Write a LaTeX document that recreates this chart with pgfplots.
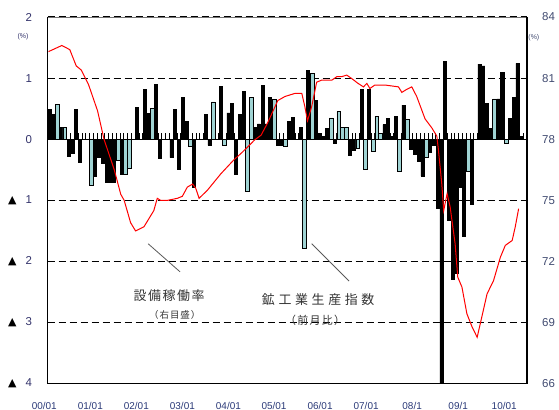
\documentclass[border=0pt]{standalone}
\usepackage{fontspec}
\setmainfont{Liberation Sans}
\newfontfamily\jp{Noto Sans CJK JP}
\newfontfamily\dejavu{DejaVu Sans}
\usepackage{pgfplots}
\pgfplotsset{compat=1.18}
\definecolor{tealbar}{HTML}{9FD3D3}
\definecolor{navyL}{HTML}{33336B}
\definecolor{navyR}{HTML}{404A70}
\definecolor{navyX}{HTML}{2B3A78}
\definecolor{jptext}{HTML}{333333}
\begin{document}
\begin{tikzpicture}
\path[use as bounding box] (0,0) rectangle (559bp,410bp);
\begin{axis}[
  at={(47.7bp,26.3bp)}, anchor=south west,
  scale only axis, width=479.3bp, height=366.7bp,
  xmin=-0.5, xmax=125.5, ymin=-4, ymax=2,
  clip mode=individual,
  axis line style={draw=none},
  major tick length=0pt,
  ytick={-4,-3,-2,-1,0,1,2},
  yticklabels={{{\dejavu\fontsize{11}{12}\selectfont\color{black}▲}\hspace{9bp}4},
               {{\dejavu\fontsize{11}{12}\selectfont\color{black}▲}\hspace{9bp}3},
               {{\dejavu\fontsize{11}{12}\selectfont\color{black}▲}\hspace{9bp}2},
               {{\dejavu\fontsize{11}{12}\selectfont\color{black}▲}\hspace{9bp}1},
               0,1,2},
  yticklabel style={anchor=east, inner sep=0pt, xshift=-15.5bp, font=\fontsize{11.5}{13}\selectfont, text=navyL},
  xtick={-0.5,11.6,23.7,35.8,47.9,59.9,72.0,84.1,96.2,108.3,120.4},
  xticklabels={00/01,01/01,02/01,03/01,04/01,05/01,06/01,07/01,08/1,09/1,10/01},
  xticklabel style={anchor=base, inner sep=0pt, yshift=-25.5bp, xshift=-3.4bp, font=\fontsize{10}{12}\selectfont, text=navyX},
  ymajorgrids,
  grid style={black, line width=1.1bp, dash pattern=on 7bp off 4bp},
]
% category tick stubs on the zero line
\addplot[ycomb, black, line width=0.8bp, no marks] coordinates {
(-0.5,0.1)(0.5,0.1)(1.5,0.1)(2.5,0.1)(3.5,0.1)(4.5,0.1)(5.5,0.1)(6.5,0.1)(7.5,0.1)(8.5,0.1)
(9.5,0.1)(10.5,0.1)(11.5,0.1)(12.5,0.1)(13.5,0.1)(14.5,0.1)(15.5,0.1)(16.5,0.1)(17.5,0.1)(18.5,0.1)
(19.5,0.1)(20.5,0.1)(21.5,0.1)(22.5,0.1)(23.5,0.1)(24.5,0.1)(25.5,0.1)(26.5,0.1)(27.5,0.1)(28.5,0.1)
(29.5,0.1)(30.5,0.1)(31.5,0.1)(32.5,0.1)(33.5,0.1)(34.5,0.1)(35.5,0.1)(36.5,0.1)(37.5,0.1)(38.5,0.1)
(39.5,0.1)(40.5,0.1)(41.5,0.1)(42.5,0.1)(43.5,0.1)(44.5,0.1)(45.5,0.1)(46.5,0.1)(47.5,0.1)(48.5,0.1)
(49.5,0.1)(50.5,0.1)(51.5,0.1)(52.5,0.1)(53.5,0.1)(54.5,0.1)(55.5,0.1)(56.5,0.1)(57.5,0.1)(58.5,0.1)
(59.5,0.1)(60.5,0.1)(61.5,0.1)(62.5,0.1)(63.5,0.1)(64.5,0.1)(65.5,0.1)(66.5,0.1)(67.5,0.1)(68.5,0.1)
(69.5,0.1)(70.5,0.1)(71.5,0.1)(72.5,0.1)(73.5,0.1)(74.5,0.1)(75.5,0.1)(76.5,0.1)(77.5,0.1)(78.5,0.1)
(79.5,0.1)(80.5,0.1)(81.5,0.1)(82.5,0.1)(83.5,0.1)(84.5,0.1)(85.5,0.1)(86.5,0.1)(87.5,0.1)(88.5,0.1)
(89.5,0.1)(90.5,0.1)(91.5,0.1)(92.5,0.1)(93.5,0.1)(94.5,0.1)(95.5,0.1)(96.5,0.1)(97.5,0.1)(98.5,0.1)
(99.5,0.1)(100.5,0.1)(101.5,0.1)(102.5,0.1)(103.5,0.1)(104.5,0.1)(105.5,0.1)(106.5,0.1)(107.5,0.1)(108.5,0.1)
(109.5,0.1)(110.5,0.1)(111.5,0.1)(112.5,0.1)(113.5,0.1)(114.5,0.1)(115.5,0.1)(116.5,0.1)(117.5,0.1)(118.5,0.1)
(119.5,0.1)(120.5,0.1)(121.5,0.1)(122.5,0.1)(123.5,0.1)(124.5,0.1)(125.5,0.1)
};
% black bars
\addplot[ybar, bar width=0.8, bar shift=0pt, fill=black, draw=black, line width=0.6bp] coordinates {
(0,0.49)(1,0.40)(3,0.19)(5,-0.28)(6,-0.23)(7,0.49)(8,-0.38)(12,-0.60)(13,-0.30)(14,-0.40)
(15,-0.70)(16,-0.70)(17,-0.70)(19,-0.58)(23,0.52)(25,0.82)(26,0.42)(28,0.90)(29,-0.31)(32,-0.30)
(33,0.49)(34,-0.50)(35,0.68)(36,0.29)(38,-0.78)(41,0.40)(42,-0.10)(45,0.87)(47,0.43)(48,0.58)
(49,-0.58)(50,0.40)(51,0.78)(54,0.20)(55,0.25)(56,0.88)(57,0.25)(58,0.68)(60,-0.10)(61,-0.10)
(63,0.29)(64,0.36)(66,0.20)(68,1.13)(70,0.64)(71,0.10)(72,0.05)(73,0.18)(75,-0.06)(79,-0.27)
(80,-0.18)(82,0.82)(84,0.82)(88,0.24)(89,0.34)(90,0.05)(91,0.37)(93,0.56)(95,-0.17)(96,-0.25)
(97,-0.36)(98,-0.60)(100,-0.21)(101,-0.10)(102,-1.13)(103,-4.5)(104,1.27)(105,-1.32)(106,-2.29)(107,-2.20)
(108,-0.78)(109,-1.59)(111,-1.07)(113,1.23)(114,1.20)(115,0.58)(116,0.18)(118,0.66)(119,1.10)(121,0.34)
(122,0.69)(123,1.24)(124,0.05)
};
% teal bars
\addplot[ybar, bar width=1.0, bar shift=0pt, fill=tealbar, draw=black, line width=0.6bp] coordinates {
(2,0.57)(4,0.19)(11,-0.75)(18,-0.35)(20,-0.58)(21,-0.48)(27,0.50)(37,-0.11)(43,0.61)(46,-0.10)
(52,-0.85)(53,0.68)(59,0.65)(62,-0.12)(67,-1.78)(69,1.08)(74,0.35)(76,0.45)(77,0.19)(78,0.19)
(81,-0.15)(83,-0.49)(85,-0.20)(86,0.38)(87,0.09)(92,-0.52)(94,0.32)(99,-0.30)(110,-0.53)(117,0.66)
(120,-0.07)
};
% zero line
\draw[black, line width=1.2bp] (axis cs:-0.5,0) -- (axis cs:125.5,0);
% annotations
\draw[black!65, line width=0.8bp] (axis cs:25.9,-1.71) -- (axis cs:34.3,-2.17);
\draw[black!65, line width=0.8bp] (axis cs:68.9,-1.71) -- (axis cs:78.7,-2.32);
\node[text=jptext, inner sep=0pt, font={\jp\fontsize{13}{15}\selectfont\addfontfeatures{LetterSpace=12}}] at (axis cs:31.4,-2.56) {設備稼働率};
\node[text=jptext, inner sep=0pt, font={\jp\fontsize{9.5}{11}\selectfont\addfontfeatures{LetterSpace=10}}] at (axis cs:32.9,-2.88) {（右目盛）};
\node[text=jptext, inner sep=0pt, font={\jp\fontsize{13}{15}\selectfont\addfontfeatures{LetterSpace=28}}] at (axis cs:70.6,-2.63) {鉱工業生産指数};
\node[text=jptext, inner sep=0pt, font={\jp\fontsize{11}{13}\selectfont\addfontfeatures{LetterSpace=12}}] at (axis cs:69.8,-2.96) {（前月比）};
\node[text=navyL, inner sep=0pt, font=\fontsize{7}{8}\selectfont] at (axis cs:-7.0,1.68) {(\%)};
% frame
\draw[black!55, line width=0.8bp] (rel axis cs:0,1) -- (rel axis cs:1,1);
\draw[black, line width=1.3bp] (rel axis cs:0,1) -- (rel axis cs:0,0) -- (rel axis cs:1,0) -- (rel axis cs:1,1);
\end{axis}
\begin{axis}[
  at={(47.7bp,26.3bp)}, anchor=south west,
  scale only axis, width=479.3bp, height=366.7bp,
  xmin=-0.5, xmax=125.5, ymin=66, ymax=84,
  clip mode=individual,
  axis x line=none, axis y line*=right,
  axis line style={draw=none},
  major tick length=0pt,
  ytick={66,69,72,75,78,81,84},
  yticklabels={66,69,72,75,78,81,84},
  yticklabel style={anchor=west, inner sep=0pt, xshift=15bp, font=\fontsize{11.5}{13}\selectfont, text=navyR},
]
\addplot[red, line width=1bp, no marks] coordinates {
(-0.3,82.3)(3.2,82.6)(5.3,82.4)(7.0,81.6)(8.3,81.4)(10.2,80.7)(12.6,79.4)(14.3,78.0)(17.0,76.5)(18.7,75.3)
(19.6,75.0)(21.3,73.9)(22.6,73.5)(24.8,73.7)(26.1,74.1)(27.4,74.5)(28.3,75.1)(29.2,75.0)(31.0,75.0)(33.6,75.1)
(34.9,75.2)(36.2,75.65)(37.6,75.8)(38.4,75.6)(39.3,75.1)(41.5,75.5)(45.0,76.3)(48.5,77.0)(50.3,77.3)(52.5,77.7)
(53.8,77.95)(55.6,78.2)(57.3,78.8)(60.0,79.9)(61.9,80.1)(64.5,80.25)(66.3,80.25)(67.1,79.6)(67.8,78.9)(68.9,79.6)
(70.2,80.8)(71.5,80.9)(74.2,80.9)(75.5,81.07)(76.8,81.07)(78.1,81.15)(79.4,80.98)(81.1,80.74)(82.5,80.57)(83.4,80.74)
(84.2,80.49)(85.5,80.66)(88.2,80.66)(91.7,80.57)(92.6,80.3)(93.9,80.45)(95.2,80.57)(96.5,80.1)(98.7,79.0)(100.5,78.55)
(101.8,78.15)(102.2,77.5)(103.1,75.8)(103.6,74.5)(104.5,75.33)(105.3,74.67)(106.6,72.87)(107.3,71.23)(108.4,70.74)(109.7,69.43)
(111.1,68.77)(112.4,68.28)(113.6,69.26)(115.0,70.41)(116.7,71.06)(118.5,72.21)(119.8,72.79)(121.6,73.03)(122.4,73.69)(123.3,74.59)
};
\node[text=navyR, inner sep=0pt, font=\fontsize{7}{8}\selectfont] at (axis cs:127.3,83.0) {(\%)};
\end{axis}
\end{tikzpicture}
\end{document}
